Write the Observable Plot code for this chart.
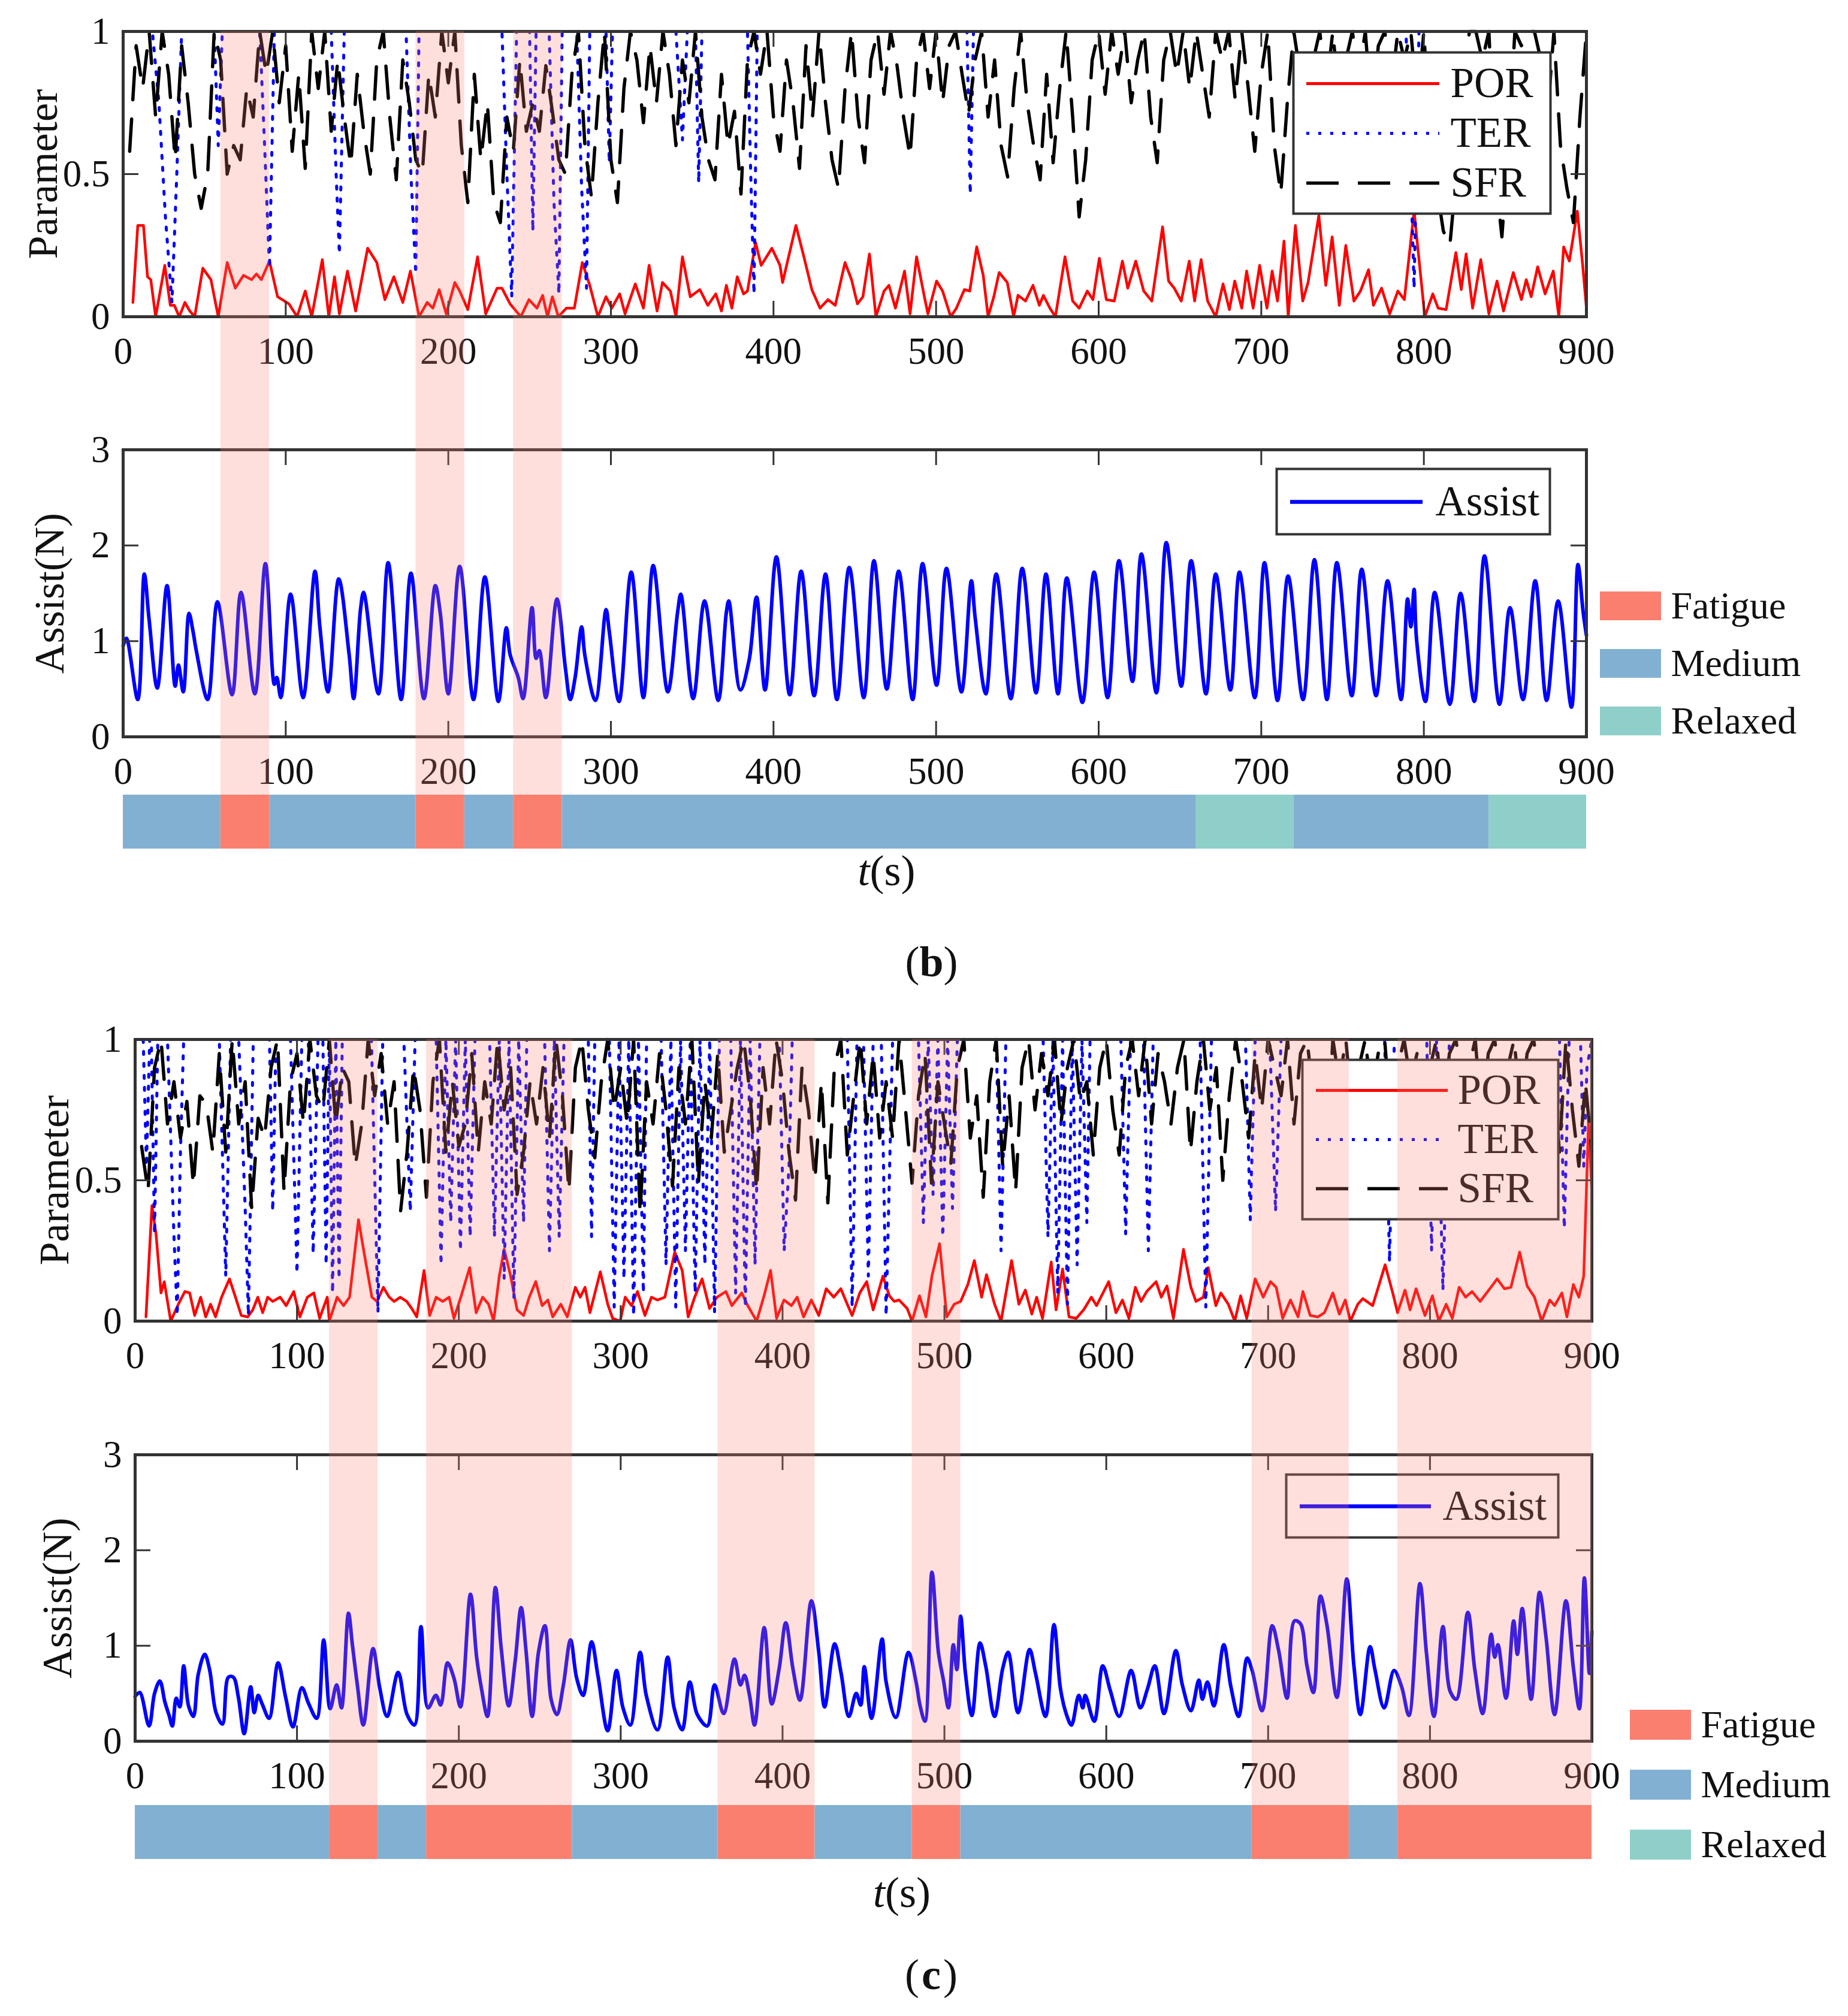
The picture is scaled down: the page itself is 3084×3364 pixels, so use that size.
<!DOCTYPE html>
<html><head><meta charset="utf-8">
<script src="https://cdn.jsdelivr.net/npm/d3@7"></script>
<script src="https://cdn.jsdelivr.net/npm/@observablehq/plot@0.6"></script>
<style>
html,body{margin:0;padding:0;background:#fff;}
#fig{position:relative;width:3084px;height:3364px;background:#fff;overflow:hidden;}
#fig svg{position:absolute;}
</style>
</head><body><div id="fig"></div>
<script>
// ---------------- data ----------------
const xTicks = [0, 100, 200, 300, 400, 500, 600, 700, 800, 900];
const paramTicks = [0, 0.5, 1];
const assistTicks = [0, 1, 2, 3];
const stateNames = ["Fatigue", "Medium", "Relaxed"];
const stateColors = ["#fa7f6f", "#82b0d2", "#8ecfc9"];
const seriesNames = ["POR", "TER", "SFR"];

const statesB = [
  {start: 0, end: 60, state: "Medium"}, {start: 60, end: 90, state: "Fatigue"},
  {start: 90, end: 180, state: "Medium"}, {start: 180, end: 210, state: "Fatigue"},
  {start: 210, end: 240, state: "Medium"}, {start: 240, end: 270, state: "Fatigue"},
  {start: 270, end: 660, state: "Medium"}, {start: 660, end: 720, state: "Relaxed"},
  {start: 720, end: 840, state: "Medium"}, {start: 840, end: 900, state: "Relaxed"}
];
const statesC = [
  {start: 0, end: 120, state: "Medium"}, {start: 120, end: 150, state: "Fatigue"},
  {start: 150, end: 180, state: "Medium"}, {start: 180, end: 270, state: "Fatigue"},
  {start: 270, end: 360, state: "Medium"}, {start: 360, end: 420, state: "Fatigue"},
  {start: 420, end: 480, state: "Medium"}, {start: 480, end: 510, state: "Fatigue"},
  {start: 510, end: 690, state: "Medium"}, {start: 690, end: 750, state: "Fatigue"},
  {start: 750, end: 780, state: "Medium"}, {start: 780, end: 900, state: "Fatigue"}
];

// POR (t, value)
const porB = [[6,0.05],[9,0.32],[12.5,0.32],[15,0.14],[17,0.13],[20,0],[25.6,0.18],[29,0.04],[31.5,0.04],[34.5,0],[38,0.05],[41,0.02],[44,0],[49,0.17],[54,0.13],[58.5,0],[64,0.19],[69,0.10],[74,0.145],[79,0.13],[82,0.15],[85,0.13],[90,0.195],[95,0.07],[102,0.045],[107,0],[112,0.09],[116,0],[122.5,0.2],[126.5,0],[130,0.14],[133,0.01],[138,0.16],[143,0.02],[150.4,0.24],[156,0.19],[161,0.06],[166.5,0.14],[172,0.05],[176.7,0.16],[182,0],[187,0.05],[190.5,0.03],[194.4,0.095],[198.7,0.01],[204,0.12],[207,0.09],[212,0.025],[218,0.21],[223,0.01],[230,0.10],[233,0.10],[238,0.045],[244.6,0],[249.6,0.06],[254.5,0.03],[258,0.075],[261,0],[264,0.07],[267.7,0],[272.6,0.03],[277.5,0.03],[282.4,0.19],[287,0.11],[292,0],[297,0.07],[300.5,0.03],[305.4,0.08],[308.7,0.01],[315,0.115],[320,0.03],[323.5,0.18],[328.4,0.02],[331.7,0.12],[336.6,0.09],[340,0],[344,0.21],[348.8,0.07],[354.7,0.095],[359.6,0.04],[364.5,0.08],[368,0.02],[371,0.11],[374.4,0.03],[377.7,0.14],[381.6,0.08],[384,0.09],[389,0.26],[392.4,0.18],[399,0.24],[404,0.18],[405.6,0.12],[413.8,0.32],[418.7,0.21],[423.6,0.095],[428.6,0.03],[433.5,0.06],[438,0.04],[444,0.19],[448,0.13],[451.6,0.045],[455,0.07],[459,0.22],[463,0],[468,0.09],[471,0.11],[475,0.03],[480.6,0.16],[484,0.01],[488,0.21],[492.8,0.07],[495,0.01],[500.3,0.125],[504,0.09],[509,0],[512.5,0.03],[517.4,0.095],[520.7,0.09],[525,0.245],[529,0.145],[532,0],[535.5,0.07],[538.8,0.155],[543.8,0.12],[547.7,0],[550.4,0.075],[555,0.055],[559.6,0.11],[563.5,0.04],[566,0.075],[570,0.03],[573.4,0],[579.3,0.21],[584,0.055],[588,0.03],[593,0.09],[596.5,0.06],[600.4,0.205],[604.7,0.06],[609.6,0.055],[614.6,0.195],[617.9,0.10],[622.8,0.195],[627.7,0.09],[632.7,0.055],[639.3,0.315],[643,0.125],[646.5,0.10],[650.8,0.055],[655.7,0.195],[659,0.055],[663,0.2],[667,0.055],[672,0],[676.5,0.115],[680.4,0.025],[683.7,0.125],[688,0.03],[691,0.16],[695,0.03],[699,0.18],[703.5,0.03],[706.7,0.16],[710,0.055],[714,0.265],[716.6,0],[721,0.32],[725.5,0.055],[728.8,0.12],[735.4,0.355],[739.7,0.11],[743.6,0.28],[748,0.04],[752,0.25],[757,0.055],[761,0.09],[766,0.165],[769,0.04],[774,0.10],[779,0.01],[784,0.09],[788,0.06],[794,0.37],[800.6,0],[805.5,0.08],[808.8,0.03],[813.7,0.025],[819.7,0.225],[823,0.095],[826,0.22],[830,0.03],[835,0.2],[840,0.01],[845,0.125],[849,0.02],[855,0.155],[860,0.06],[863,0.13],[866,0.07],[870,0.175],[874.6,0.08],[879.6,0.16],[883,0],[886,0.245],[889.5,0.195],[894.4,0.37],[897.7,0.18],[900,0.03]];

const porC = [[6.7,0.015],[10.4,0.41],[12.9,0.31],[16,0.10],[18,0.14],[22,0],[26.7,0.06],[30.7,0.105],[33.7,0.10],[36.8,0.02],[40.5,0.085],[43.6,0.015],[46.6,0.06],[49.7,0.015],[53.4,0.085],[58.3,0.15],[62,0.085],[65.6,0.02],[69.6,0.015],[72.7,0.04],[75.8,0.085],[78.8,0.03],[81.9,0.085],[85,0.07],[89.6,0.085],[93.3,0.055],[98,0.105],[101.8,0.015],[106.4,0.085],[110.4,0.10],[114,0.01],[118.7,0.085],[120,0],[124.8,0.085],[128.8,0.055],[132.5,0.085],[138,0.36],[141.7,0.235],[146.3,0.085],[149.4,0.07],[153.4,0.12],[157,0.085],[160,0.07],[163.8,0.085],[167.8,0.07],[170.9,0.045],[174,0.015],[178.5,0.18],[182,0.02],[186,0.085],[190,0.07],[194,0.085],[197,0.01],[201.5,0.09],[206.7,0.19],[210.7,0.03],[214.7,0.085],[218.4,0.06],[221.5,0],[225,0.16],[228,0.255],[232,0.16],[236,0.04],[240,0.02],[243.5,0.085],[247.5,0.14],[251.5,0.055],[255,0.075],[258,0.015],[263,0.06],[267,0.015],[272,0.12],[275,0.085],[278,0.12],[281,0.03],[287.4,0.175],[292,0.06],[295,0.01],[299.7,0],[302.8,0.085],[306.7,0.055],[310.4,0.105],[315,0.02],[319,0.085],[322.7,0.075],[327.3,0.085],[333.4,0.245],[338,0.18],[341.7,0.015],[345.7,0.085],[350.3,0.15],[354.9,0.045],[359.5,0.085],[365,0.105],[368.7,0.055],[374.8,0.10],[378.5,0.055],[384,0],[388.6,0.09],[392.6,0.18],[396.3,0.01],[400.9,0.075],[405.5,0.055],[409,0.085],[413,0.015],[417.8,0.075],[422.4,0.02],[427,0.115],[431.6,0.085],[436,0.115],[440,0.06],[443,0.02],[447.7,0.10],[452,0.14],[456,0.04],[462,0.16],[466,0.09],[469,0.07],[472,0.075],[477,0.045],[480,0],[484.6,0.09],[488.6,0.015],[492.3,0.16],[497,0.275],[501.5,0.015],[506,0.06],[510,0.07],[514.5,0.13],[518.5,0.215],[523,0.085],[526,0.165],[531,0.06],[535,0],[541.5,0.215],[546,0.06],[550,0.11],[554,0.025],[557,0.085],[560.6,0.01],[566,0.21],[569,0.04],[573,0.185],[577,0.015],[581.5,0.01],[586,0.04],[590.8,0.085],[594,0.055],[601.5,0.14],[606,0.03],[610,0.075],[614,0.01],[618,0.12],[621.5,0.07],[625,0.105],[630.8,0.14],[634,0.085],[637.5,0.125],[641.5,0.01],[647.7,0.255],[652.3,0.12],[655.4,0.07],[660,0.085],[663,0.19],[667.7,0.055],[670.8,0.10],[675.4,0.06],[679.4,0],[683,0.09],[686.8,0.01],[692,0.15],[697,0.085],[701.5,0.14],[705,0.12],[709,0.01],[713.8,0.075],[718.5,0.015],[721.5,0.105],[726,0.02],[730.8,0.015],[734.8,0.03],[740,0.10],[744,0.025],[747.7,0.075],[750.8,0],[755.4,0.06],[758.5,0.08],[764.6,0.055],[772.3,0.20],[777,0.10],[780,0.03],[784.6,0.11],[787.7,0.04],[791.4,0.115],[796.9,0.02],[801.5,0.09],[805.5,0],[810,0.06],[813.8,0.01],[818,0.12],[822,0.085],[826,0.105],[831,0.07],[837,0.115],[841.5,0.15],[846,0.115],[850,0.12],[855.4,0.245],[860,0.125],[864.6,0.085],[869,0],[874,0.075],[877,0.055],[881.5,0.10],[884.6,0.015],[888.6,0.13],[892,0.085],[895,0.16],[898,0.715],[900,0.46]];

// TER (t, value): mostly 1 with dips
const terB = [[6,1],[18,1],[22,0.75],[26,0.35],[30,0.05],[33,0.5],[36,1],[56,1],[58.5,0.6],[61,1],[84,1],[87,0.6],[90,0.17],[93,1],[128,1],[131,0.5],[133,0.22],[136,1],[174,1],[177,0.5],[180,0.15],[182,1],[233,1],[236,0.5],[239,0.07],[242,1],[250,1],[252,0.30],[254,1],[262,1],[265,0.4],[268,0.08],[270,1],[279,1],[282,0.45],[285,0.10],[287,1],[297,1],[299,0.54],[301,1],[340,1],[344,0.62],[347,1],[352,1],[354,0.47],[356,1],[384,1],[386,0.5],[388,0.08],[390,1],[519,1],[521,0.43],[523,1],[789,1],[792,0.5],[794,0.1],[797,1],[900,1]];

const terC = [[5,1],[7,0.55],[9,1],[10,1],[12,0.31],[14,1],[20,1],[24,0.3],[26,0.02],[28,0.6],[30,1],[52,1],[56,0.16],[59,1],[64,1],[68,0.4],[70,0.02],[73,1],[83,1],[85,0.39],[87,1],[96,1],[100,0.17],[103,1],[107,1],[110,0.24],[113,1],[116,1],[118,0.2],[120,1],[122,0.1],[124,1],[126,0.15],[128,1],[146,1],[150,0.03],[153,1],[166,1],[170,0.39],[173,1],[186,1],[189,0.2],[192,1],[195,0.35],[198,1],[201,0.25],[204,1],[207,0.3],[210,1],[219,1],[222,0.3],[225,1],[228,0.15],[231,1],[234,0.08],[237,1],[240,0.35],[242,1],[253,1],[256,0.25],[259,1],[262,0.3],[265,1],[280,1],[282,0.3],[284,1],[293,1],[296,0.05],[299,1],[302,0.15],[305,1],[308,0.02],[311,1],[314,0.1],[316,1],[325,1],[328,0.2],[331,1],[334,0.05],[337,1],[340,0.25],[343,1],[346,0.1],[349,1],[352,0.2],[355,1],[358,0.03],[361,1],[368,1],[371,0.1],[374,1],[377,0.05],[380,1],[383,0.2],[386,1],[398,1],[401,0.25],[404,0.55],[406,1],[440,1],[443,0.05],[446,1],[450,1],[453,0.16],[456,1],[461,1],[464,0.02],[468,1],[484,1],[487,0.35],[490,1],[493,0.45],[496,1],[499,0.3],[502,1],[505,0.4],[508,1],[532,1],[535,0.25],[538,1],[561,1],[564,0.3],[567,1],[570,0.1],[573,1],[576,0.06],[579,1],[582,0.2],[585,1],[588,0.35],[590,1],[609,1],[612,0.31],[615,1],[623,1],[626,0.25],[629,1],[658,1],[661.5,0.05],[665,1],[686,1],[689,0.36],[692,1],[701,1],[704.6,0.39],[708,1],[772,1],[775,0.21],[778,1],[798,1],[801,0.25],[804,1],[808,0.11],[812,1],[880,1],[883,0.33],[886,1],[893,1],[895,0.55],[897,0.9],[900,1]];

// SFR sampled every 4 s from t = 4 to 900
const sfrT = d3.range(4, 901, 4);
const sfrB = [0.58,0.95,0.8,1,0.7,1,0.85,0.55,0.95,
 0.75,0.5,0.38,0.5,1,0.9,0.5,0.6,0.55,0.8,
 0.7,1,0.85,1,0.75,0.95,0.58,0.85,0.52,1,
 0.8,1,0.65,0.9,0.7,0.53,0.85,0.65,0.5,0.9,
 1,0.7,0.48,0.9,0.75,0.55,0.5,0.85,0.7,1,
 0.82,1,0.6,0.4,0.85,0.55,0.75,0.4,0.33,0.7,
 0.58,0.9,0.65,0.75,0.65,0.88,0.72,0.55,0.5,0.85,
 1,0.6,0.42,0.75,1,0.55,0.4,0.8,1,0.9,
 0.68,0.95,0.75,1,0.85,0.6,0.9,0.75,1,0.7,
 0.55,0.48,0.85,0.6,0.72,0.43,0.9,1,0.85,1,
 0.7,0.58,0.9,0.75,0.52,0.95,0.7,1,0.75,0.55,
 0.45,0.8,1,0.7,0.54,0.9,1,0.78,1,0.88,
 0.7,0.56,0.9,1,0.8,1,0.75,0.95,1,0.85,
 0.71,0.9,1,0.7,0.9,0.6,0.49,0.8,1,0.75,
 0.6,0.48,0.85,0.54,0.8,1,0.7,0.35,0.55,0.9,
 1,0.78,1,0.85,1,0.75,0.9,1,0.7,0.54,
 0.9,1,0.85,1,0.8,1,0.85,0.7,1,0.9,
 1,0.76,1,0.8,0.58,0.85,1,0.6,0.43,0.75,
 1,0.85,0.6,0.9,1,0.8,1,0.75,0.9,1,
 0.85,1,0.7,0.95,1,0.8,1,0.9,1,0.75,
 1,0.6,0.45,0.3,0.25,0.5,0.8,1,1,0.9,
 1,0.5,0.28,0.6,1,0.95,1,1,0.9,0.7,
 1,0.6,0.45,0.33,0.7,1];
const sfrC = [0.62,0.46,0.9,1,0.7,0.85,0.65,0.78,0.48,
 0.8,0.77,0.6,0.95,0.6,1,0.7,0.85,0.4,0.72,
 0.65,0.9,1,0.46,0.85,0.95,0.7,1,0.8,0.75,
 1,0.7,0.9,0.85,0.55,0.7,1,0.8,0.95,0.7,
 0.85,0.39,0.6,0.9,0.75,0.44,0.85,1,0.6,0.85,
 0.62,0.7,0.95,0.6,0.85,0.7,1,0.75,0.9,0.45,
 0.6,0.85,0.7,0.9,0.65,1,0.8,0.46,0.9,1,
 0.75,0.58,0.85,1,0.75,0.9,0.7,1,0.38,0.85,
 0.7,0.95,0.75,0.48,0.9,0.7,1,0.49,0.85,0.65,
 0.95,0.6,0.75,0.9,1,0.8,0.46,0.9,0.7,1,
 0.85,0.6,0.43,0.9,0.75,0.5,0.85,0.42,0.9,1,
 0.59,0.8,1,0.7,0.95,0.65,0.85,0.65,1,0.75,
 0.49,0.8,0.95,0.49,0.85,0.7,0.56,0.9,1,0.65,
 0.8,0.44,0.85,1,0.55,0.8,0.46,0.9,1,0.75,
 0.95,0.8,1,0.7,0.9,1,0.78,0.85,0.59,0.9,
 1,0.75,0.59,0.9,1,0.8,1,0.7,0.95,0.85,
 0.7,0.9,1,0.6,0.85,1,0.75,0.9,0.5,0.8,
 1,0.85,0.65,0.95,0.75,1,0.9,0.8,1,0.7,
 0.95,1,0.8,0.9,0.6,1,0.85,1,0.75,0.9,
 1,0.8,0.95,1,0.7,0.9,1,0.85,0.95,0.6,
 0.9,1,0.75,0.95,1,0.85,0.9,1,0.7,0.95,
 1,0.8,0.9,1,0.75,0.95,1,0.85,0.55,0.9,
 0.6,1,0.75,0.55,0.85,0.6];

// Assist (t, N): peaks, troughs and shoulders
const assistB = [[0,0.95],[2,1.03],[9,0.39],[13,1.70],[16,1.22],[21,0.51],[27,1.58],[32,0.53],[34,0.75],[37,0.47],[40.5,1.29],[43,1.10],[45,0.9],[52,0.39],[58,1.41],[67,0.44],[72.5,1.51],[81,0.45],[87.5,1.81],[93,0.55],[94.5,0.62],[97,0.41],[103,1.49],[110.7,0.41],[118,1.73],[121,1.15],[126,0.47],[132.6,1.65],[139,0.86],[141.8,0.40],[146,1.33],[147.9,1.51],[157,0.45],[163,1.82],[171,0.39],[177,1.71],[185,0.40],[192,1.58],[195,1.3],[200,0.45],[207,1.78],[215.5,0.39],[222.5,1.67],[230.8,0.37],[235.7,1.14],[238,0.86],[243,0.62],[246,0.40],[251.5,1.35],[254,0.82],[256,0.9],[260,0.41],[266.8,1.44],[272,0.72],[275,0.39],[278,0.62],[282,1.15],[284,0.85],[290.5,0.38],[297,1.33],[299,1.1],[305,0.37],[312.5,1.72],[320,0.41],[326,1.79],[335,0.47],[341,1.3],[343,1.49],[350.6,0.40],[357.6,1.42],[366,0.38],[371,1.3],[372.5,1.42],[379.6,0.49],[385,0.8],[389.6,1.46],[394.8,0.49],[401.8,1.88],[410,0.44],[417,1.73],[425,0.43],[432,1.70],[439,0.39],[446.6,1.77],[455.5,0.41],[461.8,1.84],[469.7,0.50],[477,1.73],[485.6,0.39],[491.7,1.81],[500.3,0.54],[506.4,1.76],[515.6,0.47],[521.7,1.63],[524,1.25],[530.6,0.45],[537,1.70],[546,0.40],[553,1.76],[561.5,0.46],[567.6,1.70],[575,0.45],[580.4,1.66],[590,0.36],[597.2,1.72],[605.5,0.41],[612.5,1.84],[620.8,0.58],[626.3,1.91],[635.5,0.46],[641.6,2.03],[650.8,0.53],[656.9,1.84],[666,0.45],[672,1.70],[681,0.49],[686.6,1.72],[696,0.41],[702,1.82],[710,0.38],[716.5,1.68],[725.7,0.39],[732.7,1.85],[740.4,0.39],[746.5,1.82],[755.7,0.43],[761.8,1.75],[770.6,0.43],[777.7,1.63],[786,0.39],[790,1.44],[792,1.15],[794,1.54],[795.5,1.02],[801,0.37],[806.7,1.51],[816,0.34],[822.6,1.50],[831,0.37],[837.3,1.89],[846.5,0.34],[853,1.35],[861,0.39],[868.5,1.63],[875.5,0.38],[882.6,1.42],[890.8,0.31],[894.8,1.80],[898,1.3],[900,1.06]];

const assistC = [[0,0.47],[1,0.49],[3,0.51],[8.6,0.16],[12,0.50],[15.3,0.63],[18.4,0.41],[21,0.27],[23,0.16],[25.4,0.45],[27.6,0.36],[30,0.79],[33,0.37],[36,0.26],[39,0.70],[43,0.91],[46,0.75],[50,0.30],[54,0.18],[57.6,0.67],[60.7,0.67],[63.8,0.46],[67.4,0.08],[71.4,0.57],[73.6,0.30],[76,0.48],[78.5,0.39],[82.8,0.24],[88.3,0.82],[93,0.46],[97.5,0.15],[103,0.56],[107.3,0.39],[112.2,0.24],[116.5,1.06],[120.5,0.34],[124.5,0.59],[127.5,0.35],[131.8,1.34],[134.3,1.00],[137.3,0.59],[141,0.17],[147,0.97],[151,0.57],[155.7,0.26],[162.5,0.72],[168,0.28],[172.6,0.17],[176.6,1.20],[181,0.35],[185.8,0.48],[188.8,0.38],[193,0.82],[197,0.66],[201,0.36],[207.2,1.54],[211,0.88],[214,0.55],[217.7,0.26],[222.6,1.61],[226.2,0.97],[230.8,0.37],[234.8,0.84],[238.5,1.40],[241.6,0.93],[245.3,0.26],[249.2,0.93],[253.2,1.21],[257,0.44],[260.6,0.28],[264.6,0.59],[269,1.06],[272.8,0.66],[276.8,0.48],[282,1.04],[286,0.68],[292,0.11],[297.4,0.74],[301.4,0.35],[306,0.17],[312,0.93],[315.8,0.48],[322.8,0.12],[329,0.88],[333,0.35],[338,0.12],[342.7,0.62],[347.3,0.28],[353.5,0.16],[358,0.59],[363.6,0.29],[370.3,0.86],[374,0.59],[376.5,0.69],[379.6,0.48],[382.7,0.17],[388.7,1.19],[393.3,0.39],[398,0.77],[402,1.24],[406.5,0.75],[410.8,0.43],[417.8,1.47],[422.4,0.93],[426,0.36],[432.2,1.02],[436.2,0.71],[441,0.26],[445.5,0.50],[448.3,0.38],[450.5,0.78],[455,0.24],[461.5,1.07],[464,0.62],[470,0.25],[477.8,0.93],[482.5,0.62],[485,0.37],[488,0.21],[492.3,1.77],[496.3,0.93],[499.4,0.64],[502.5,0.35],[505.5,1.01],[507.7,0.75],[510,1.31],[513,0.71],[517,0.27],[522,1.03],[525.5,0.79],[531,0.26],[536,0.76],[539.4,0.93],[545.5,0.30],[552.6,0.96],[556.3,0.71],[562.5,0.26],[567.7,1.22],[571.7,0.55],[575.4,0.28],[578.5,0.17],[583,0.48],[585.5,0.35],[587,0.48],[592.6,0.21],[597.8,0.79],[602.5,0.53],[608,0.26],[615.4,0.74],[621,0.35],[625.5,0.55],[630,0.79],[635.7,0.29],[643,0.95],[647,0.59],[652.3,0.32],[657.2,0.64],[659.4,0.44],[662.5,0.62],[666.5,0.37],[672.6,1.01],[677,0.57],[681.8,0.26],[687,0.87],[690,0.75],[696.3,0.32],[702.5,1.21],[706.5,0.95],[711.7,0.45],[716.3,1.26],[720,1.23],[724,0.79],[728,0.51],[732.3,1.52],[736.3,1.22],[742.5,0.46],[748.6,1.70],[753,0.79],[757,0.28],[763,0.99],[766,0.75],[771.7,0.35],[777.8,0.74],[782.5,0.57],[787,0.27],[793.8,1.65],[797.8,0.93],[802.5,0.26],[808,1.20],[812.3,0.53],[816.3,0.44],[823.4,1.35],[827.7,0.75],[832.6,0.29],[837.8,1.12],[840,0.88],[842,1.01],[847,0.45],[851.7,1.26],[854,0.91],[857,1.39],[862.5,0.44],[867.7,1.56],[871.7,1.09],[877,0.28],[884,1.47],[888.6,0.77],[892.3,0.34],[895.4,1.71],[898.5,0.71],[900,1.15]];

// ---------------- drawing ----------------
const W = 3084;
const FONT = "'Liberation Serif', 'Times New Roman', Times, serif";
const INK = "#333";
const TXT = "#111";
const TICK = 26;
const fig = document.getElementById("fig");
const baseStyle = {background: "none", fontFamily: FONT, overflow: "visible"};

function place(svg, left, top) {
  svg.style.position = "absolute";
  svg.style.left = left + "px";
  svg.style.top = top + "px";
  fig.appendChild(svg);
}

function panel({top, fTop, fBottom, left, right, yDomain, yTicks, yLabel, labelDx, marks}) {
  const mb = 130;
  const fH = fBottom - fTop, fW = right - left;
  const svg = Plot.plot({
    width: W, height: fBottom - top + mb,
    marginTop: fTop - top, marginBottom: mb, marginLeft: left, marginRight: W - right,
    style: baseStyle,
    x: {domain: [0, 900]}, y: {domain: yDomain},
    marks: [
      ...marks,
      Plot.ruleX(xTicks, {x: d => d, insetBottom: fH - TICK, stroke: INK, strokeWidth: 3}),
      Plot.ruleX(xTicks, {x: d => d, insetTop: fH - TICK, stroke: INK, strokeWidth: 3}),
      Plot.ruleY(yTicks, {y: d => d, insetRight: fW - TICK, stroke: INK, strokeWidth: 3}),
      Plot.ruleY(yTicks, {y: d => d, insetLeft: fW - TICK, stroke: INK, strokeWidth: 3}),
      Plot.frame({stroke: INK, strokeWidth: 5}),
      Plot.axisX(xTicks, {tickSize: 0, tickPadding: 34, fontSize: 63, fontFamily: FONT, label: null, fill: TXT, tickFormat: d => `${d}`}),
      Plot.axisY(yTicks, {tickSize: 0, tickPadding: 22, fontSize: 63, fontFamily: FONT, label: null, fill: TXT, tickFormat: d => `${d}`}),
      Plot.text([yLabel], {frameAnchor: "left", dx: labelDx, rotate: -90, textAnchor: "middle", fontSize: 70, fontFamily: FONT, text: d => d, fill: TXT})
    ]
  });
  place(svg, 0, top);
}

function paramMarks(por, ter, sfr) {
  return [
    Plot.line(por, {x: d => d[0], y: d => d[1], stroke: "#ff0000", strokeWidth: 4.5}),
    Plot.line(ter, {x: d => d[0], y: d => d[1], stroke: "#0000ff", strokeWidth: 5, strokeDasharray: "5,15"}),
    Plot.line(sfr, {x: (d, i) => sfrT[i], y: d => d, stroke: "#000", strokeWidth: 5.5, strokeDasharray: "54,32"})
  ];
}
function assistMarks(a) {
  return [Plot.line(a, {x: d => d[0], y: d => d[1], stroke: "#0000ff", strokeWidth: 6, curve: "catmull-rom"})];
}

const seriesItems = [
  {name: "POR", color: "#ff0000", width: 5, dash: undefined},
  {name: "TER", color: "#0000ff", width: 5, dash: "5,15"},
  {name: "SFR", color: "#000000", width: 5.5, dash: "54,32"}
];
const assistItems = [{name: "Assist", color: "#0000ff", width: 6.5, dash: undefined}];

function lineLegend({left, top, w, h, items, padding, insetL, insetR, textDx}) {
  const svg = Plot.plot({
    width: w, height: h, margin: 0,
    style: baseStyle,
    x: {domain: [0, 1], axis: null},
    y: {type: "point", domain: items.map(d => d.name), padding, axis: null},
    marks: [
      Plot.frame({fill: "white", stroke: INK, strokeWidth: 4}),
      ...items.map(it => Plot.ruleY([it.name], {y: d => d, insetLeft: insetL, insetRight: insetR, stroke: it.color, strokeWidth: it.width, strokeDasharray: it.dash})),
      Plot.text(items, {y: "name", text: "name", frameAnchor: "left", dx: textDx, textAnchor: "start", fontSize: 71, fontFamily: FONT, fill: TXT})
    ]
  });
  place(svg, left, top);
}

function stateLegend({left, top, step}) {
  const sw = 102;
  const svg = Plot.plot({
    width: sw + 330, height: step * 3, margin: 0, marginRight: 330,
    style: baseStyle,
    x: {axis: null},
    y: {type: "band", domain: stateNames, paddingInner: 0.5, paddingOuter: 0.25, axis: null},
    color: {domain: stateNames, range: stateColors},
    marks: [
      Plot.cell(stateNames, {y: d => d, fill: d => d}),
      Plot.text(stateNames, {y: d => d, text: d => d, frameAnchor: "right", dx: 16, textAnchor: "start", fontSize: 64, fontFamily: FONT, fill: TXT})
    ]
  });
  place(svg, left, top);
}

function stateBar({top, bottom, left, right, states, letter, tDx, tDy, pDx, pDy}) {
  const svg = Plot.plot({
    width: W, height: bottom - top + 340, marginTop: 0, marginBottom: 340, marginLeft: left, marginRight: W - right,
    style: baseStyle,
    x: {domain: [0, 900], axis: null},
    color: {domain: stateNames, range: stateColors},
    marks: [
      Plot.rect(states, {x1: "start", x2: "end", fill: "state"}),
      Plot.text(["t"], {text: d => d, frameAnchor: "bottom", dx: tDx, dy: tDy, textAnchor: "end", fontStyle: "italic", fontSize: 72, fontFamily: FONT, fill: TXT}),
      Plot.text(["(s)"], {text: d => d, frameAnchor: "bottom", dx: tDx, dy: tDy, textAnchor: "start", fontSize: 72, fontFamily: FONT, fill: TXT}),
      Plot.text(["("], {text: d => d, frameAnchor: "bottom", dx: pDx - 20, dy: pDy, textAnchor: "end", fontSize: 72, fontFamily: FONT, fill: TXT}),
      Plot.text([letter], {text: d => d, frameAnchor: "bottom", dx: pDx, dy: pDy, textAnchor: "middle", fontWeight: "bold", fontSize: 72, fontFamily: FONT, fill: TXT}),
      Plot.text([")"], {text: d => d, frameAnchor: "bottom", dx: pDx + 20, dy: pDy, textAnchor: "start", fontSize: 72, fontFamily: FONT, fill: TXT})
    ]
  });
  place(svg, 0, top);
}

function overlay({top, bottom, left, right, states}) {
  const svg = Plot.plot({
    width: W, height: bottom - top, marginTop: 0, marginBottom: 0, marginLeft: left, marginRight: W - right,
    style: baseStyle,
    x: {domain: [0, 900], axis: null},
    marks: [Plot.rect(states.filter(d => d.state === "Fatigue"), {x1: "start", x2: "end", fill: stateColors[0], fillOpacity: 0.25})]
  });
  place(svg, 0, top);
}

// ---- figure (b) ----
const bL = 205, bR = 2647;
panel({top: 0, fTop: 52, fBottom: 528, left: bL, right: bR, yDomain: [0, 1], yTicks: paramTicks, yLabel: "Parameter", labelDx: -133, marks: paramMarks(porB, terB, sfrB)});
lineLegend({left: 2158, top: 87, w: 429, h: 269, items: seriesItems, padding: 0.62, insetL: 22, insetR: 185, textDx: 262});
panel({top: 700, fTop: 750, fBottom: 1229, left: bL, right: bR, yDomain: [0, 3], yTicks: assistTicks, yLabel: "Assist(N)", labelDx: -122, marks: assistMarks(assistB)});
lineLegend({left: 2130, top: 782, w: 456, h: 109, items: assistItems, padding: 0.5, insetL: 23, insetR: 212, textDx: 265});
stateLegend({left: 2670, top: 963, step: 96});
stateBar({top: 1326, bottom: 1416, left: bL, right: bR, states: statesB, letter: "b", tDx: 25, tDy: 60, pDx: 128, pDy: 212});
overlay({top: 52, bottom: 1326, left: bL, right: bR, states: statesB});

// ---- figure (c) ----
const cL = 225, cR = 2656;
panel({top: 1684, fTop: 1734, fBottom: 2204, left: cL, right: cR, yDomain: [0, 1], yTicks: paramTicks, yLabel: "Parameter", labelDx: -134, marks: paramMarks(porC, terC, sfrC)});
lineLegend({left: 2173, top: 1768, w: 427, h: 266, items: seriesItems, padding: 0.62, insetL: 23, insetR: 184, textDx: 259});
panel({top: 2377, fTop: 2427, fBottom: 2905, left: cL, right: cR, yDomain: [0, 3], yTicks: assistTicks, yLabel: "Assist(N)", labelDx: -129, marks: assistMarks(assistC)});
lineLegend({left: 2146, top: 2460, w: 454, h: 105, items: assistItems, padding: 0.5, insetL: 23, insetR: 212, textDx: 261});
stateLegend({left: 2720, top: 2828, step: 100});
stateBar({top: 3012, bottom: 3102, left: cL, right: cR, states: statesC, letter: "c", tDx: 36, tDy: 79, pDx: 113, pDy: 216});
overlay({top: 1734, bottom: 3012, left: cL, right: cR, states: statesC});
</script>
</body></html>
